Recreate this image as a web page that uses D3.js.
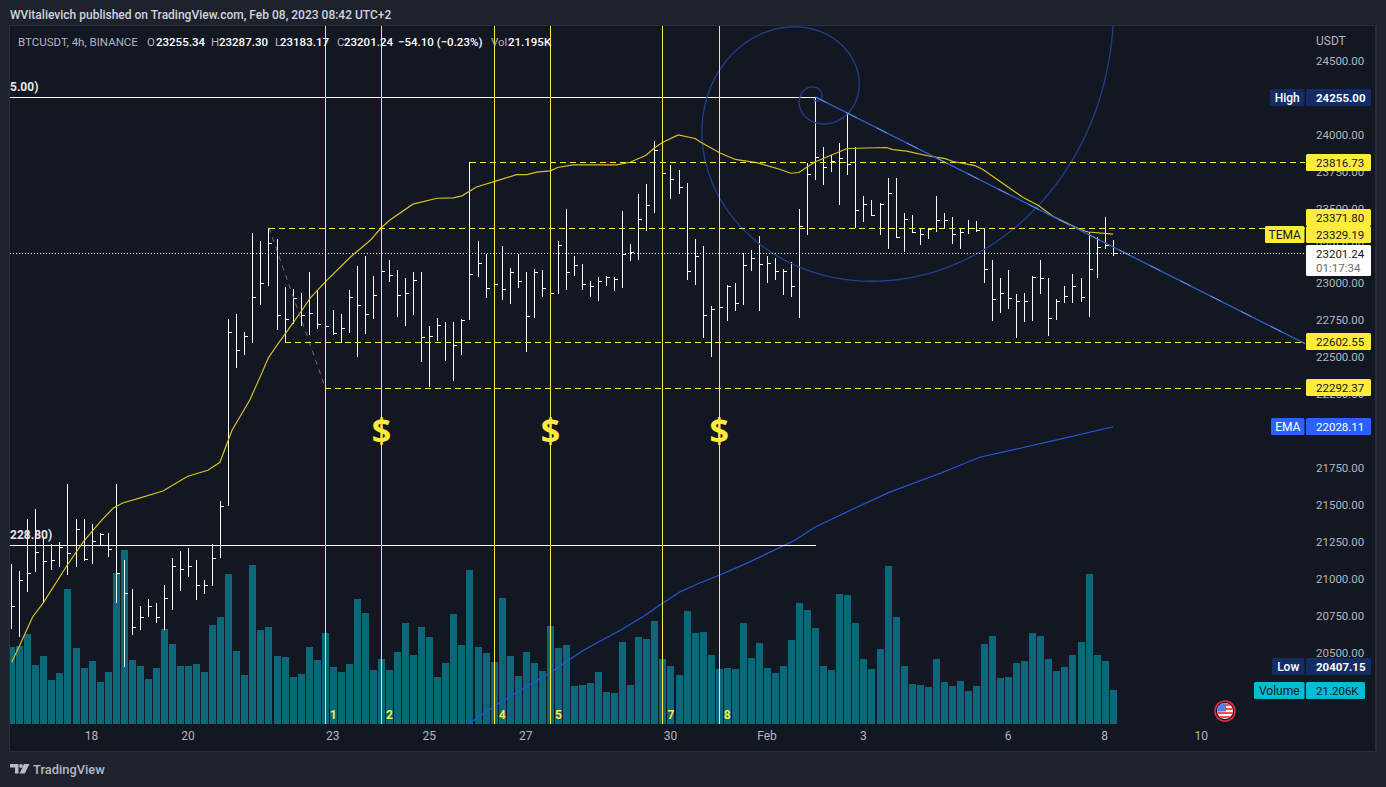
<!DOCTYPE html>
<html>
<head>
<meta charset="utf-8">
<title>BTCUSDT 4h</title>
<script src="https://cdn.jsdelivr.net/npm/d3@7"></script>
<style>
  html, body { margin: 0; padding: 0; background: #1e222d; overflow: hidden; }
  text { font-family: Roboto, "Open Sans", sans-serif; }
</style>
</head>
<body>
<script>
var barHigh = [21104,21052,21408,21469,21284,21234,21246,21644,21408,21408,21374,21313,21313,21644,21131,20935,20815,20867,20840,20957,21138,21187,21212,21126,20991,21239,21523,22755,22793,22665,23334,23280,23371.8,23300,22975,22962,22935,23077,22955,22815,22820,22793,22955,23113,23180,23045,23153,23158,23090,23030,23077,23077,22712,22766,22739,22739,22759,23816.73,23280,23198,23220,23246,23104,23192,23077,23097,23084,23119,23280,23496,23185,23131,23016,23043,23050,23043,23489,23266,23604,23665,23962,23896,23800,23766,23678,23300,23248,22842,22950,22989,22996,23205,23219,23320,23185,23165,23097,23144,23496,23813,24255,23921,23861,23942,24144,23921,23590,23563,23543,23712,23712,23469,23462,23361,23374,23584,23469,23448,23367,23428,23415,23367,23158,23030,23090,22928,22935,23050,23158,23030,22894,22982,23063,23036,23347,23307,23448,23287.3];
var barLow = [20662,20608,20912,21047,20844,21063,21081,21025,21081,21121,21101,21227,21148,20838,20407.15,20621,20655,20743,20702,20655,20790,20919,21013,20858,20898,20952,21142,21493,22425,22513,22594,22851,22980,22682,22602.55,22719,22712,22648,22689,22292.37,22648,22597,22660,22500,22655,22757,22950,23007,22770,22709,22784,22466,22297,22608,22473,22338,22513,22750,23040,22898,22883,22885,22858,22966,22534,22763,22905,22883,22925,22953,23047,22953,22905,22878,22980,22946,22966,23148,23155,23351,23473,23457,23567,23601,23020,22984,22628,22500,22477,22743,22811,22851,23081,22811,23000,23020,22919,22905,22763,23324,23696,23662,23750,23527,23730,23369,23412,23453,23324,23230,23304,23209,23334,23257,23297,23344,23361,23263,23230,23331,23344,23000,22743,22797,22824,22628,22736,22743,22925,22642,22750,22865,22865,22871,22770,23034,23230,23183.17];
var barClose = [20813,20991,21038,21178,21119,21126,21212,21171,21334,21131,21252,21302,21198,21034,20901,20673,20741,20813,20741,20869,21081,21063,21084,20955,20955,21138,21489,22665,22543,22638,22901,22996,23266,22780,22752,22894,22780,22793,22719,22705,22658,22692,22901,22847,22786,22915,23077,23050,22915,22928,23016,22631,22638,22712,22597,22577,22746,23057,23131,22962,22989,22955,23070,23009,22773,23070,22962,22928,23253,23070,23117,22989,22975,23009,23036,23023,23192,23205,23428,23523,23894,23739,23698,23644,23077,23178,22777,22820,22834,22975,22861,23117,23165,23124,23131,23077,23077,22975,23381,23732,23847,23780,23820,23840,23800,23489,23530,23455,23530,23604,23307,23428,23340,23327,23361,23421,23421,23327,23340,23367,23351,23090,22888,22928,22894,22874,22874,23036,23030,22759,22874,22908,22975,22901,23090,23239,23255.34,23201.24];
// volume in thousands
var barVolume = [48,48.6,56.1,36.8,42.4,27.4,31.8,84.2,47.4,34.9,39.3,26.2,32.4,94.2,108.5,39.9,36.2,28.1,34.9,59.3,49.9,36.2,36.2,37.4,32.4,61.7,66.7,93.6,45.5,30.6,99.2,58.6,60.5,42.4,41.8,29.3,31.2,48,39.9,56.8,35.6,32.4,37.4,78,69.2,33.7,40.5,33.7,44.9,63,43,60.5,54.3,29.3,38,68.6,49.3,96,48,44.3,38.7,78.6,42.4,29.9,44.9,38,33.1,61.1,47.4,49.3,23.7,24.3,25.6,32.4,20,19.3,51.1,24.3,54.3,53,64.2,40.5,36.2,30.6,70.5,56.8,57.4,43,34.3,34.9,34.3,63,41.2,50.5,34.9,31.8,36.2,52.4,75.5,71.1,59.9,36.2,33.7,81.1,80.5,63,40.5,34.3,46.8,98.5,66.7,36.2,24.9,24.3,23.1,40.5,26.2,23.7,26.8,20.6,23.7,49.9,54.9,28.7,29.3,38,39.3,56.8,54.9,40.5,33.1,35.6,43,51.1,93.6,43,39.3,21.206];

// TEMA and EMA at the corners of each line
var temaBars = [0,1,2.6,3.9,6.9,8.9,11,12.6,13.8,16,18.8,21.9,24.4,25.9,27.4,29.6,30.9,31.9,33,34.2,36.1,37.1,39,42.1,44.6,45.9,47,49.9,52.9,54.9,56,57.8,60.3,62.8,64.1,65.3,67,67.9,69.8,75.2,76.9,78.9,80,81,82.9,85,85.6,88.1,90,92.8,95.6,96.9,97.9,99.9,103.9,108.8,109.6,111.3,114.2,116.1,117.1,119.8,120.8,125.8,127.7,129.5,132.9,133.9,137];
var temaPrices = [20437,20552,20743,20836,21092,21250,21385,21477,21513,21547,21594,21694,21734,21788,22004,22207,22365,22491,22579,22669,22815,22896,23007,23173,23288,23369,23423,23532,23572,23574,23588,23648,23689,23732,23732,23748,23757,23780,23797,23797,23815,23863,23915,23951,24000,23976,23953,23878,23834,23811,23766,23741,23746,23817,23908,23915,23901,23890,23856,23840,23820,23793,23766,23577,23523,23450,23361,23344,23329.19];
var emaBars = [56.9,60,67,71.1,75.7,78.6,80.9,83.1,85.2,88,91.8,97.4,99.9,104.3,109.2,115.5,120.4,125.4,130.4,137];
var emaPrices = [20023,20140,20367,20518,20653,20748,20833,20912,20964,21025,21115,21261,21349,21464,21586,21714,21822,21883,21944,22028.11];

var priceTicks = [24500,24250,24000,23750,23500,23250,23000,22750,22500,22250,22000,21750,21500,21250,21000,20750,20500];
var dateBars = [10,22,40,52,64,82,94,106,124,136,148];
var dateLabels = ['18','20','23','25','27','30','Feb','3','6','8','10'];

// drawings placed on the chart
var levelPrices = [23816.73,23371.80,22602.55,22292.37];
var levelBars = [57,32,34,39];
var highLowPrices = [24255,21228.80];
var markerBars = [39,46,60,67,81,88];
var markerNums = ['1','2','4','5','7','8'];
var dollarBars = [46,67,88];
var fibBars = [32,39];
var fibPrices = [23371.8,22292.37];
var trendBars = [100,161];
var trendPrices = [24255,22586];

var W = 1386, H = 787;
var paneL = 10, paneT = 26, paneR = 1375, paneB = 751, plotB = 724, axisX = 1305;
var numSize = 11.5;

var svg = d3.select('body').append('svg').attr('width', W).attr('height', H).style('display', 'block');

var x = d3.scaleLinear().domain([0, 137]).range([11.7, 1113.2]);
var y = d3.scaleLinear().domain([24500, 20500]).range([60.9, 652.9]);
var yVol = d3.scaleLinear().domain([0, 100]).range([plotB, plotB - 160.4]);

function px(v) { return Math.floor(v) + 0.5; }
function pxRound(v) { return Math.round(v) + 0.5; }

svg.append('rect').attr('width', W).attr('height', H).attr('fill', '#1e222d');
svg.append('rect').attr('x', paneL - 1).attr('y', paneT - 1).attr('width', paneR - paneL + 3).attr('height', paneB - paneT + 2).attr('fill', '#2a2e39');
svg.append('rect').attr('x', paneL).attr('y', paneT).attr('width', paneR - paneL).attr('height', paneB - paneT).attr('fill', '#131722');

svg.append('defs').append('clipPath').attr('id', 'plot')
    .append('rect').attr('x', paneL).attr('y', paneT).attr('width', axisX - paneL).attr('height', plotB - paneT);

// axes
var priceAxis = d3.axisRight(y).tickValues(priceTicks).tickFormat(d3.format('.2f')).tickSize(0).tickPadding(0);
var gPrice = svg.append('g').attr('transform', 'translate(1316,0)').call(priceAxis);
gPrice.select('.domain').remove();
gPrice.selectAll('text').attr('fill', '#b2b5be').attr('font-size', numSize).attr('font-family', 'Roboto');

var dateAxis = d3.axisBottom(x).tickValues(dateBars).tickFormat(function (d) { return dateLabels[dateBars.indexOf(d)]; }).tickSize(0).tickPadding(0);
var gDate = svg.append('g').attr('transform', 'translate(-1,731)').call(dateAxis);
gDate.select('.domain').remove();
gDate.selectAll('text').attr('fill', '#b2b5be').attr('font-size', 12).attr('font-family', 'Roboto');

var plot = svg.append('g').attr('clip-path', 'url(#plot)');

// volume
plot.append('g').attr('shape-rendering', 'crispEdges').selectAll('rect').data(barVolume).enter().append('rect')
    .attr('x', function (d, i) { return Math.floor(x(i)) - 3; })
    .attr('y', function (d) { return Math.round(yVol(d)); })
    .attr('width', 7)
    .attr('height', function (d) { return plotB - Math.round(yVol(d)); })
    .attr('fill', '#0b687a');

// EMA
var lineOf = d3.line().x(function (d) { return x(d[0]); }).y(function (d) { return y(d[1]); });
plot.append('path').datum(d3.zip(emaBars, emaPrices)).attr('d', lineOf)
    .attr('fill', 'none').attr('stroke', '#2458d8').attr('stroke-width', 1.2);

// price bars, high-low with a close tick on the right
var gBars = plot.append('g').attr('shape-rendering', 'crispEdges').attr('stroke', '#ffffff').attr('stroke-width', 1);
barHigh.forEach(function (h, i) {
    var bx = px(x(i));
    gBars.append('line').attr('x1', bx).attr('x2', bx).attr('y1', y(h)).attr('y2', y(barLow[i]));
    gBars.append('line').attr('x1', bx).attr('x2', bx + 3).attr('y1', px(y(barClose[i]))).attr('y2', px(y(barClose[i])));
});

// high and low horizontals
plot.selectAll('line.hl').data(highLowPrices).enter().append('line').attr('class', 'hl')
    .attr('x1', paneL).attr('x2', x(100))
    .attr('y1', function (d) { return pxRound(y(d)); }).attr('y2', function (d) { return pxRound(y(d)); })
    .attr('stroke', '#ffffff').attr('stroke-width', 1).attr('shape-rendering', 'crispEdges');

// last price
svg.append('line').attr('x1', paneL).attr('x2', axisX).attr('y1', pxRound(y(23201.24))).attr('y2', pxRound(y(23201.24)))
    .attr('stroke', '#ffffff').attr('stroke-dasharray', '1,2').attr('shape-rendering', 'crispEdges');

// fib spiral around the high
var spiralCx = x(100), spiralCy = y(24255), phi = (1 + Math.sqrt(5)) / 2;
var thetas = d3.range(-9, 8, 0.02);
var spiral = d3.line()
    .x(function (t) { return spiralCx + 41.5 * Math.pow(phi, 2 * t / Math.PI) * Math.cos(t); })
    .y(function (t) { return spiralCy - 41.5 * Math.pow(phi, 2 * t / Math.PI) * Math.sin(t); });
plot.append('path').datum(thetas).attr('d', spiral).attr('fill', 'none').attr('stroke', '#1e418f').attr('stroke-width', 1.3);

// TEMA
plot.append('path').datum(d3.zip(temaBars, temaPrices)).attr('d', lineOf)
    .attr('fill', 'none').attr('stroke', '#d6c228').attr('stroke-width', 1.2);

// dashed fib leg, and the trend line from the high
plot.append('path').datum(d3.zip(fibBars, fibPrices)).attr('d', lineOf)
    .attr('fill', 'none').attr('stroke', '#6a6d75').attr('stroke-dasharray', '5,5');
plot.append('path').datum(d3.zip(trendBars, trendPrices)).attr('d', lineOf)
    .attr('fill', 'none').attr('stroke', '#2a5fc9').attr('stroke-width', 1.3);
plot.append('path').datum(d3.zip(trendBars, trendPrices)).attr('d', lineOf)
    .attr('fill', 'none').attr('stroke', '#9fb4dc').attr('stroke-dasharray', '12,22').attr('stroke-width', 1).attr('opacity', 0.6);

// yellow levels
plot.selectAll('line.lvl').data(levelPrices).enter().append('line').attr('class', 'lvl')
    .attr('x1', function (d, i) { return x(levelBars[i]); }).attr('x2', axisX)
    .attr('y1', function (d) { return pxRound(y(d)); }).attr('y2', function (d) { return pxRound(y(d)); })
    .attr('stroke', '#ffeb3b').attr('stroke-dasharray', '6,4').attr('shape-rendering', 'crispEdges');

// vertical markers
plot.selectAll('line.mark').data(markerBars).enter().append('line').attr('class', 'mark')
    .attr('x1', function (d) { return px(x(d)); }).attr('x2', function (d) { return px(x(d)); })
    .attr('y1', paneT).attr('y2', plotB)
    .attr('stroke', '#ffeb3b').attr('shape-rendering', 'crispEdges');
svg.selectAll('text.num').data(markerBars).enter().append('text').attr('class', 'num')
    .attr('x', function (d) { return x(d) + 8; }).attr('y', 718.5)
    .attr('text-anchor', 'middle').attr('fill', '#ffeb3b').attr('font-size', 12).attr('font-weight', 700)
    .text(function (d, i) { return markerNums[i]; });
svg.selectAll('text.usd').data(dollarBars).enter().append('text').attr('class', 'usd')
    .attr('x', function (d) { return x(d); }).attr('y', 443)
    .attr('text-anchor', 'middle').attr('fill', '#ffeb3b').attr('font-size', 34).attr('font-weight', 700)
    .style('font-family', '"Open Sans"').text('$');

// texts on the horizontals
svg.append('text').attr('x', 10).attr('y', 91).attr('fill', '#e6e7ea').attr('font-size', 12).attr('font-weight', 700).text('5.00)');
svg.append('text').attr('x', 10).attr('y', 539).attr('fill', '#e6e7ea').attr('font-size', 12).attr('font-weight', 700).text('228.80)');

// badges on the price scale
function badge(cy, value, bg, fg, label, labelX, boxH, right) {
    var top = Math.round(cy - 8.5);
    var g = svg.append('g');
    if (label) {
        g.append('rect').attr('x', labelX).attr('y', top).attr('width', 1304.5 - labelX).attr('height', boxH || 17).attr('rx', 1.5).attr('fill', bg);
        g.append('text').attr('x', (labelX + 1304.5) / 2).attr('y', top + 12.5).attr('text-anchor', 'middle').attr('fill', fg).attr('font-size', 12).attr('font-weight', label === 'High' || label === 'Low' ? 500 : 400).text(label);
    }
    g.append('rect').attr('x', 1306).attr('y', top).attr('width', (right || 1371) - 1306).attr('height', boxH || 17).attr('rx', 1.5).attr('fill', bg);
    g.append('text').attr('x', 1316).attr('y', top + 12.5).attr('fill', fg).attr('font-size', numSize).attr('font-weight', bg === '#132c63' ? 700 : 400).text(value);
}
badge(y(24255), '24255.00', '#132c63', '#ffffff', 'High', 1270);
badge(y(23816.73), '23816.73', '#ffeb3b', '#131722');
badge(217.5, '23371.80', '#ffeb3b', '#131722');
badge(y(23329.19), '23329.19', '#ffeb3b', '#131722', 'TEMA', 1265);
badge(y(22602.55), '22602.55', '#ffeb3b', '#131722');
badge(y(22292.37), '22292.37', '#ffeb3b', '#131722');
badge(y(22028.11), '22028.11', '#2962ff', '#ffffff', 'EMA', 1271);
badge(y(20407.15), '20407.15', '#132c63', '#ffffff', 'Low', 1272);
badge(690.5, '21.206K', '#00bcd4', '#131722', 'Volume', 1254, 17, 1365);

// last price badge with the countdown
svg.append('rect').attr('x', 1306).attr('y', 245).attr('width', 65).attr('height', 31).attr('rx', 1.5).attr('fill', '#ffffff');
svg.append('text').attr('x', 1316).attr('y', 258).attr('fill', '#131722').attr('font-size', numSize).text('23201.24');
svg.append('text').attr('x', 1316).attr('y', 272).attr('fill', '#6a6d78').attr('font-size', numSize).text('01:17:34');

svg.append('text').attr('x', 1316).attr('y', 44.5).attr('fill', '#b2b5be').attr('font-size', 12).text('USDT');

// flag
var flag = svg.append('g').attr('transform', 'translate(1225,711)');
flag.append('circle').attr('r', 10.8).attr('fill', '#e5293d');
flag.append('circle').attr('r', 9.2).attr('fill', '#131722');
svg.append('defs').append('clipPath').attr('id', 'flagClip').append('circle').attr('r', 8);
var flagIn = flag.append('g').attr('clip-path', 'url(#flagClip)');
flagIn.append('rect').attr('x', -8).attr('y', -8).attr('width', 16).attr('height', 16).attr('fill', '#f4f4f6');
flagIn.selectAll('rect.st').data([-6, -2, 2, 6]).enter().append('rect').attr('class', 'st')
    .attr('x', -8).attr('y', function (d) { return d - 1; }).attr('width', 16).attr('height', 2).attr('fill', '#ef5350');
flagIn.append('rect').attr('x', -8).attr('y', -8).attr('width', 9).attr('height', 8.5).attr('fill', '#4f82e8');

// header, legend and footer
svg.append('text').attr('x', 10).attr('y', 19).attr('fill', '#d1d4dc').attr('font-size', 12).attr('font-weight', 500)
    .text('WVitalievich published on TradingView.com, Feb 08, 2023 08:42 UTC+2');

var legendParts = [
    [18, 'BTCUSDT, 4h, BINANCE', '#b2b5be', 400],
    [147, 'O', '#b2b5be', 400], [156, '23255.34', '#ffffff', 500],
    [211, 'H', '#b2b5be', 400], [219, '23287.30', '#ffffff', 500],
    [275, 'L', '#b2b5be', 400], [280, '23183.17', '#ffffff', 500],
    [337, 'C', '#b2b5be', 400], [344, '23201.24', '#ffffff', 500],
    [398, '\u221254.10 (\u22120.23%)', '#ffffff', 500],
    [491, 'Vol', '#b2b5be', 400], [508, '21.195K', '#ffffff', 500]
];
svg.selectAll('text.leg').data(legendParts).enter().append('text').attr('class', 'leg')
    .attr('x', function (d) { return d[0]; }).attr('y', 45.5)
    .attr('fill', function (d) { return d[2]; }).attr('font-size', numSize).attr('font-weight', function (d) { return d[3]; })
    .text(function (d) { return d[1]; });

var logo = svg.append('g').attr('fill', '#b8bac1');
logo.append('path').attr('d', 'M10 764h8.5v9.5h-3.5v-6h-5z');
logo.append('circle').attr('cx', 21).attr('cy', 766).attr('r', 1.9);
logo.append('path').attr('d', 'M24 764h5.5l-4.7 9.5h-5.3z');
svg.append('text').attr('x', 33).attr('y', 773.5).attr('fill', '#b8bac1').attr('font-size', 12.9).attr('font-weight', 500).text('TradingView');
</script>
</body>
</html>
